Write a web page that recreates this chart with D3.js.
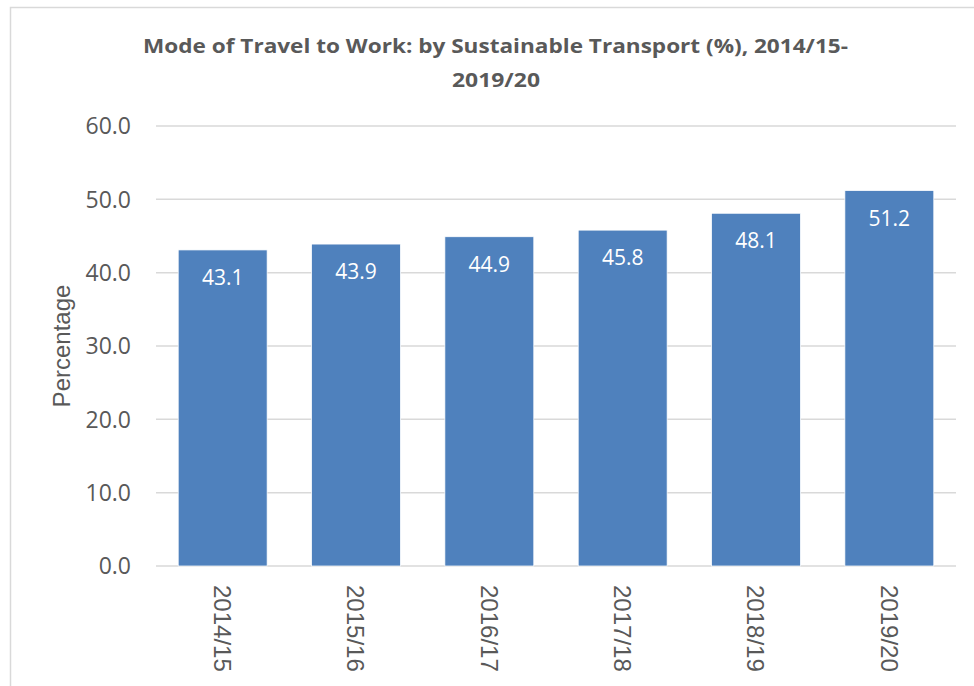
<!DOCTYPE html>
<html>
<head>
<meta charset="utf-8">
<script src="https://cdn.jsdelivr.net/npm/d3@7"></script>
<style>
  html, body { margin: 0; padding: 0; background: #fff; }
  svg { display: block; }
</style>
</head>
<body>
<svg id="chart" width="974" height="686"></svg>
<script>
const categories = ["2014/15", "2015/16", "2016/17", "2017/18", "2018/19", "2019/20"];
const values = [43.1, 43.9, 44.9, 45.8, 48.1, 51.2];
const yTicks = [0, 10, 20, 30, 40, 50, 60];
const titleLines = ["Mode of Travel to Work: by Sustainable Transport (%), 2014/15-", "2019/20"];
const yAxisTitle = "Percentage";

const svg = d3.select("#chart");
const W = 974, H = 686;
const margin = { left: 156, right: 974 - 956, top: 126, bottom: 686 - 566 };

// outer chart border (extends past right/bottom edge as in reference)
svg.append("rect")
  .attr("x", 10.5).attr("y", 7.5)
  .attr("width", 1000).attr("height", 1000)
  .attr("fill", "#fff")
  .attr("stroke", "#d9d9d9").attr("stroke-width", 1.5);

const x = d3.scaleBand()
  .domain(categories)
  .range([margin.left, W - margin.right])
  .paddingInner(0.333).paddingOuter(0.1665);

const y = d3.scaleLinear()
  .domain([0, 60])
  .range([H - margin.bottom, margin.top]);

// gridlines
svg.append("g").selectAll("line")
  .data(yTicks)
  .join("line")
  .attr("x1", margin.left).attr("x2", W - margin.right)
  .attr("y1", d => y(d)).attr("y2", d => y(d))
  .attr("stroke", "#d9d9d9").attr("stroke-width", 1.5);

// y tick labels
svg.append("g").selectAll("text")
  .data(yTicks)
  .join("text")
  .attr("x", 131)
  .attr("y", d => y(d))
  .attr("dy", "0.36em")
  .attr("text-anchor", "end")
  .attr("font-family", "'Open Sans', sans-serif")
  .attr("font-size", 23)
  .attr("fill", "#595959")
  .text(d => d3.format(".1f")(d));

// bars
svg.append("g").selectAll("rect")
  .data(values)
  .join("rect")
  .attr("x", (d, i) => x(categories[i]))
  .attr("y", d => y(d))
  .attr("width", x.bandwidth())
  .attr("height", d => y(0) - y(d))
  .attr("fill", "#4f81bd")
  .attr("stroke", "#ffffff").attr("stroke-width", 0.75);

// data labels
svg.append("g").selectAll("text")
  .data(values)
  .join("text")
  .attr("x", (d, i) => x(categories[i]) + x.bandwidth() / 2)
  .attr("y", d => y(d) + 35)
  .attr("text-anchor", "middle")
  .attr("font-family", "'Open Sans', sans-serif")
  .attr("font-size", 21)
  .attr("fill", "#ffffff")
  .text(d => d3.format(".1f")(d));

// x category labels (rotated 90deg)
svg.append("g").selectAll("text")
  .data(categories)
  .join("text")
  .attr("transform", d => `translate(${x(d) + x.bandwidth() / 2},585) rotate(90)`)
  .attr("dy", "0.36em")
  .attr("text-anchor", "start")
  .attr("font-family", "'Liberation Sans', Arial, sans-serif")
  .attr("font-size", 24)
  .attr("fill", "#595959")
  .text(d => d);

// y axis title
svg.append("text")
  .attr("transform", `translate(70,${(y(0) + y(60)) / 2}) rotate(-90)`)
  .attr("text-anchor", "middle")
  .attr("font-family", "'Liberation Sans', Arial, sans-serif")
  .attr("font-size", 24)
  .attr("fill", "#595959")
  .text(yAxisTitle);

// title
const title = svg.append("g");
title.append("text")
  .attr("x", 495.5).attr("y", 53)
  .attr("text-anchor", "middle")
  .attr("font-family", "'Open Sans', sans-serif")
  .attr("font-weight", "bold")
  .attr("font-size", 19)
  .attr("fill", "#595959")
  .attr("textLength", 705)
  .attr("lengthAdjust", "spacingAndGlyphs")
  .text(titleLines[0]);
title.append("text")
  .attr("x", 496).attr("y", 87)
  .attr("text-anchor", "middle")
  .attr("font-family", "'Open Sans', sans-serif")
  .attr("font-weight", "bold")
  .attr("font-size", 19)
  .attr("fill", "#595959")
  .attr("textLength", 88)
  .attr("lengthAdjust", "spacingAndGlyphs")
  .text(titleLines[1]);
</script>
</body>
</html>
